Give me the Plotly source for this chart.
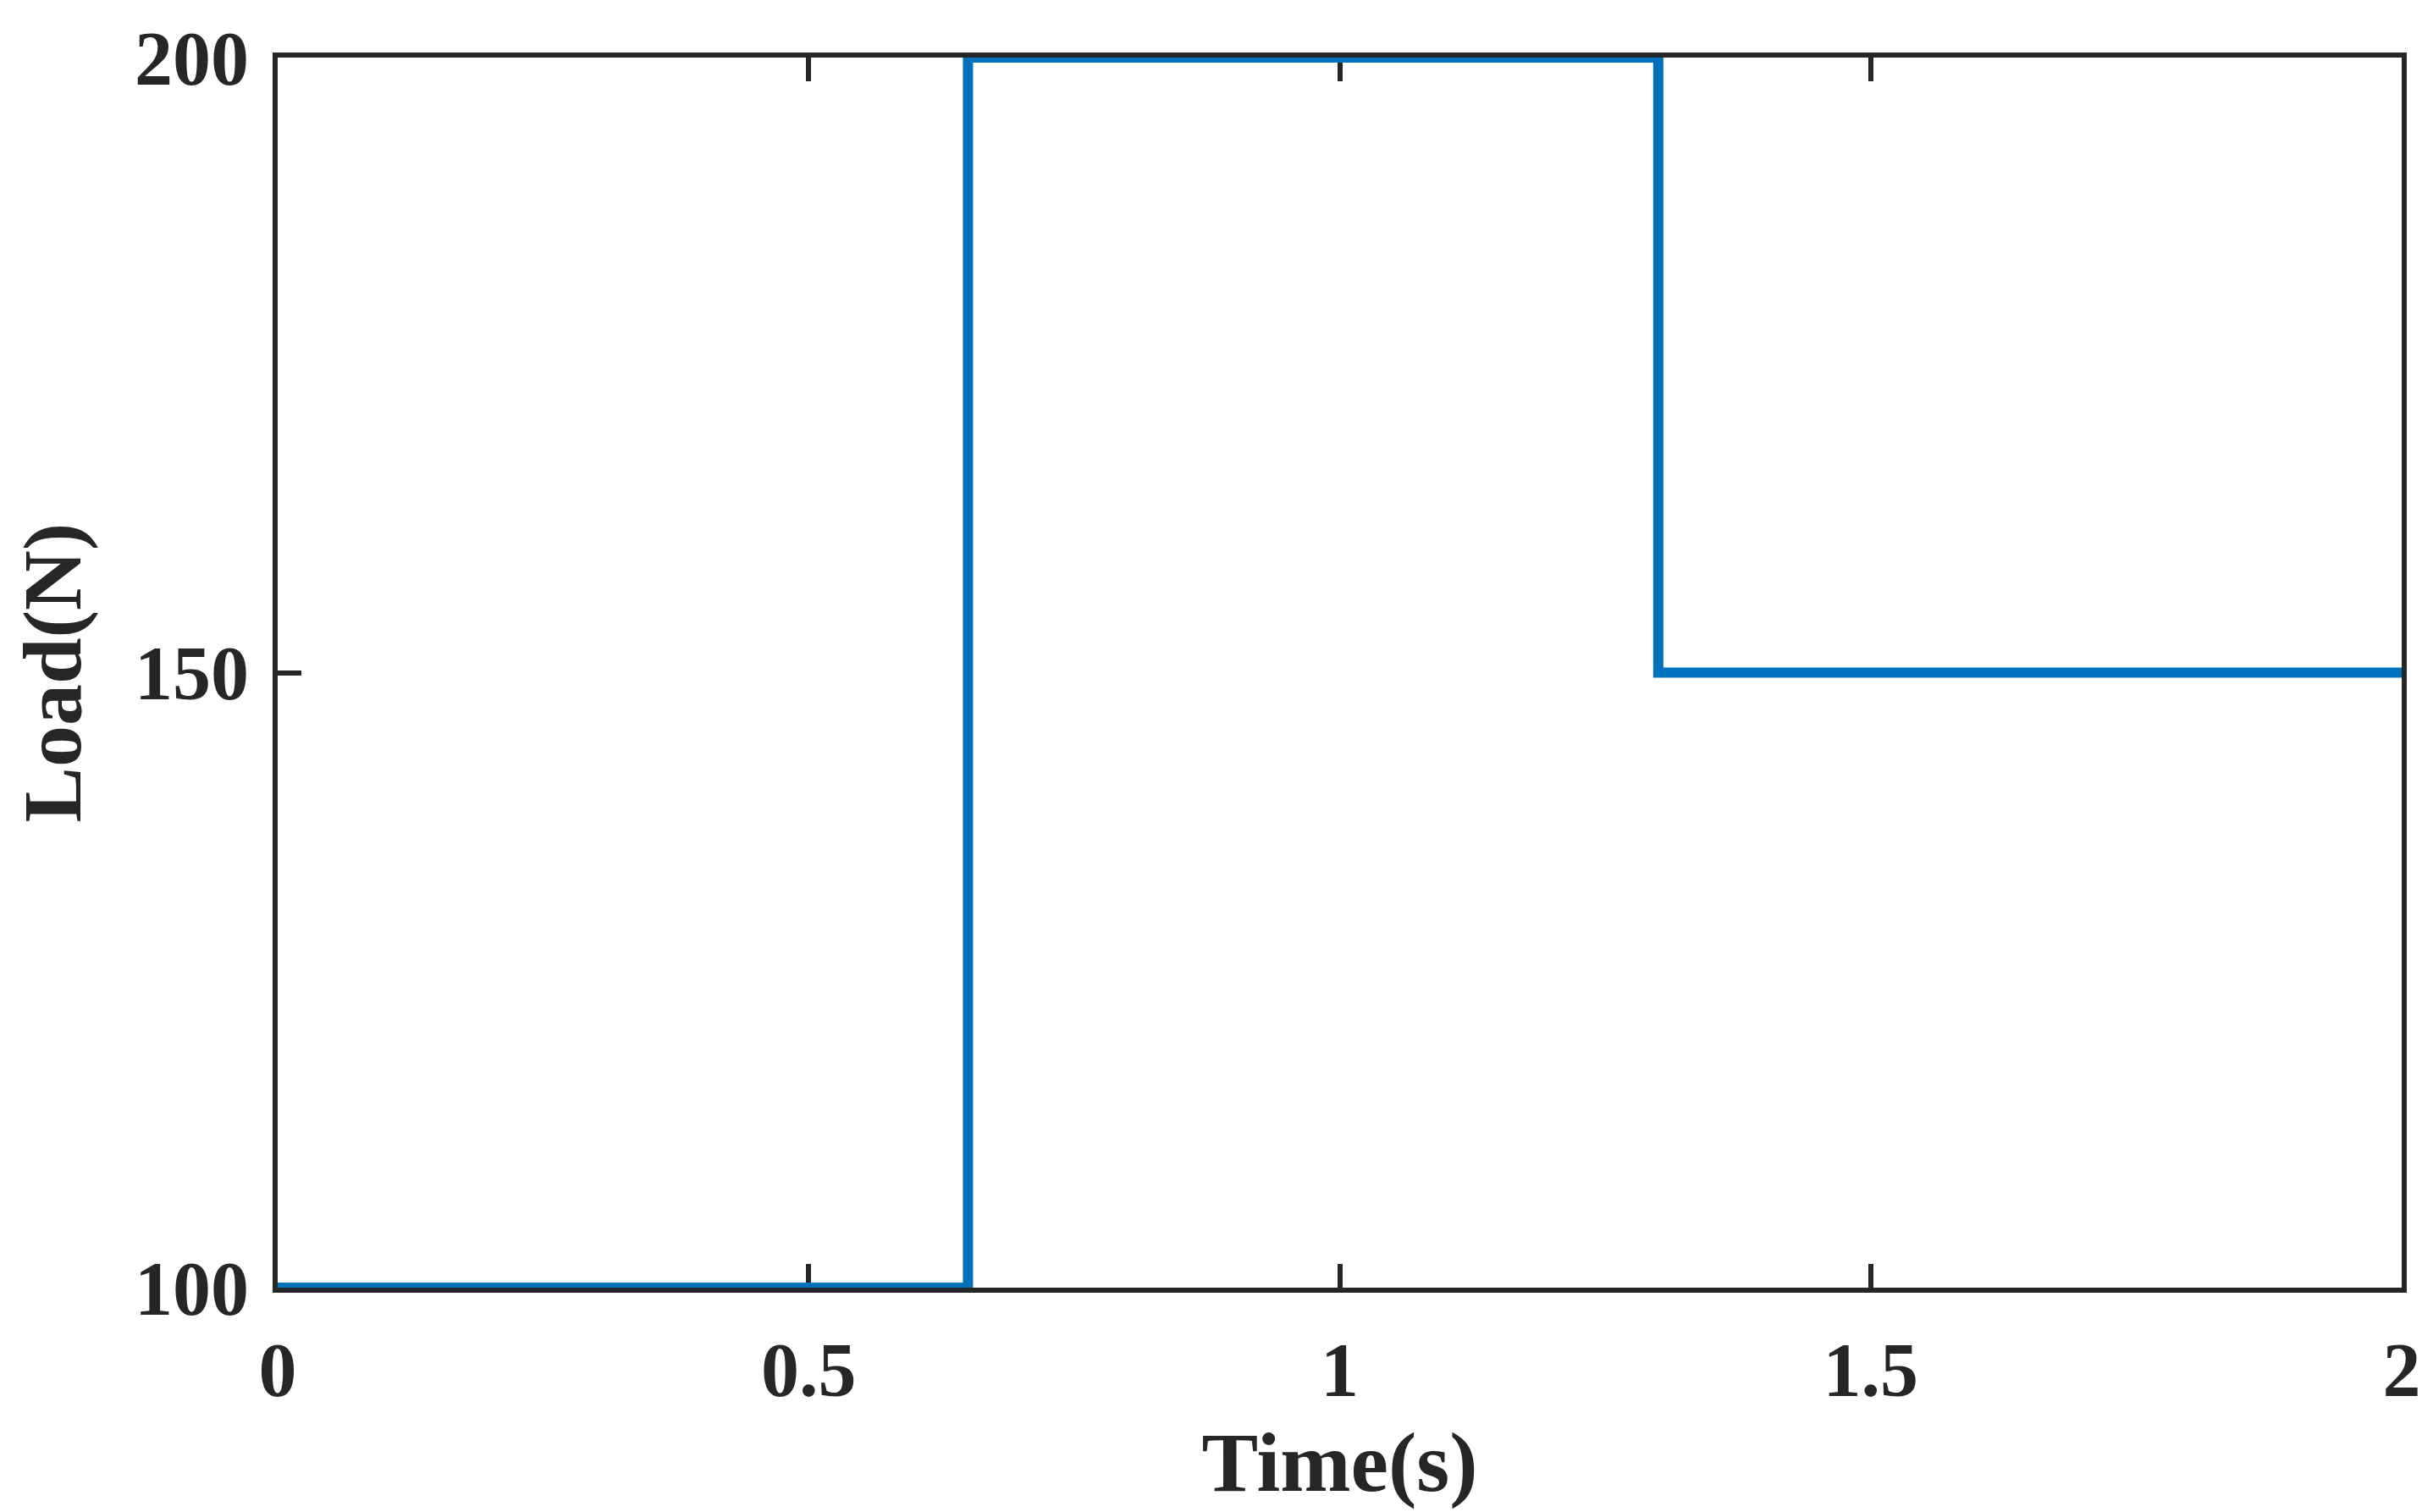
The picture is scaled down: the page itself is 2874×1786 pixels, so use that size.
import plotly.graph_objects as go

# load profile (step changes)
time_s = [0, 0.65, 1.3, 2]
load_n = [100, 200, 150, 150]

x_ticks = [0, 0.5, 1, 1.5, 2]
x_labels = ['0', '0.5', '1', '1.5', '2']
y_ticks = [100, 150, 200]
y_labels = ['100', '150', '200']

frame = '#262626'
font_family = 'Liberation Serif'

fig = go.Figure()
fig.add_trace(go.Scatter(x=time_s, y=load_n, mode='lines',
                         line=dict(color='#0072BD', width=12, shape='hv'),
                         showlegend=False))

axis_style = dict(showline=True, linecolor=frame, linewidth=6,
                  mirror='ticks', ticks='inside', ticklen=28, tickwidth=6,
                  tickcolor=frame, showgrid=False, zeroline=False,
                  layer='below traces',
                  tickfont=dict(family=font_family, size=90, color=frame, weight='bold'))

fig.update_xaxes(range=[0, 2], tickvals=x_ticks, ticktext=x_labels,
                 ticklabelstandoff=14,
                 title=dict(text='Time(s)', standoff=26,
                            font=dict(family=font_family, size=100, color=frame, weight='bold')),
                 **axis_style)
fig.update_yaxes(range=[100, 200], tickvals=y_ticks, ticktext=y_labels,
                 ticklabelstandoff=10,
                 title=dict(text='Load(N)', standoff=56,
                            font=dict(family=font_family, size=98, color=frame, weight='bold')),
                 **axis_style)

fig.update_layout(width=2874, height=1786,
                  margin=dict(l=320, r=45, t=60, b=273),
                  plot_bgcolor='white', paper_bgcolor='white')

fig.write_html("out.html")
